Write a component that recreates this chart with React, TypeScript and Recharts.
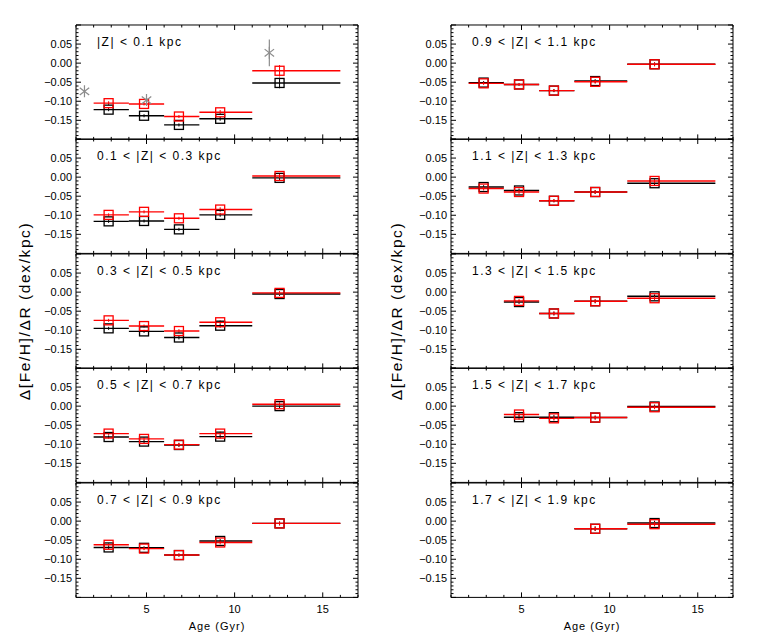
import React from "react";
import { ScatterChart, Scatter, XAxis, YAxis, ErrorBar } from "recharts";

// age bins (Gyr) and the mean age of each bin
const ageLo = [2, 4, 6, 8, 11];
const ageHi = [4, 6, 8, 11, 16];
const ageMean = [2.85, 4.86, 6.84, 9.18, 12.55];

const zLabels = [
  "|Z| < 0.1 kpc",
  "0.1 < |Z| < 0.3 kpc",
  "0.3 < |Z| < 0.5 kpc",
  "0.5 < |Z| < 0.7 kpc",
  "0.7 < |Z| < 0.9 kpc",
  "0.9 < |Z| < 1.1 kpc",
  "1.1 < |Z| < 1.3 kpc",
  "1.3 < |Z| < 1.5 kpc",
  "1.5 < |Z| < 1.7 kpc",
  "1.7 < |Z| < 1.9 kpc",
];

// d[Fe/H]/dR, one row per |Z| slice, one column per age bin
const gradBlack = [
  [-0.122, -0.138, -0.162, -0.146, -0.052],
  [-0.116, -0.115, -0.137, -0.099, -0.002],
  [-0.095, -0.103, -0.119, -0.088, -0.005],
  [-0.081, -0.093, -0.102, -0.08, 0.0],
  [-0.069, -0.07, -0.089, -0.052, -0.006],
  [-0.051, -0.056, -0.072, -0.047, -0.003],
  [-0.026, -0.035, -0.062, -0.039, -0.016],
  [null, -0.026, -0.056, -0.024, -0.011],
  [null, -0.029, -0.029, -0.03, -0.001],
  [null, null, null, -0.02, -0.005],
];
const gradRed = [
  [-0.105, -0.107, -0.14, -0.129, -0.02],
  [-0.099, -0.091, -0.108, -0.085, 0.003],
  [-0.074, -0.089, -0.102, -0.079, -0.002],
  [-0.072, -0.086, -0.101, -0.072, 0.005],
  [-0.062, -0.072, -0.089, -0.056, -0.006],
  [-0.053, -0.056, -0.072, -0.049, -0.003],
  [-0.03, -0.039, -0.062, -0.039, -0.01],
  [null, -0.023, -0.056, -0.024, -0.016],
  [null, -0.022, -0.032, -0.03, -0.003],
  [null, null, null, -0.02, -0.008],
];
const errBlack = [
  [0.004, 0.004, 0.004, 0.005, 0.014],
  [0.004, 0.004, 0.004, 0.005, 0.006],
  [0.004, 0.004, 0.005, 0.005, 0.005],
  [0.004, 0.004, 0.005, 0.005, 0.005],
  [0.004, 0.004, 0.004, 0.005, 0.005],
  [0.004, 0.003, 0.004, 0.005, 0.005],
  [0.005, 0.005, 0.004, 0.005, 0.006],
  [0, 0.005, 0.005, 0.005, 0.005],
  [0, 0.006, 0.006, 0.005, 0.005],
  [0, 0, 0, 0.006, 0.006],
];
const errRed = [
  [0.005, 0.004, 0.004, 0.006, 0.015],
  [0.004, 0.004, 0.004, 0.006, 0.006],
  [0.004, 0.004, 0.005, 0.005, 0.005],
  [0.004, 0.004, 0.005, 0.005, 0.005],
  [0.004, 0.004, 0.004, 0.005, 0.005],
  [0.004, 0.003, 0.004, 0.005, 0.005],
  [0.005, 0.005, 0.004, 0.005, 0.006],
  [0, 0.005, 0.005, 0.005, 0.005],
  [0, 0.006, 0.006, 0.005, 0.005],
  [0, 0, 0, 0.006, 0.006],
];

// literature values shown in the |Z| < 0.1 kpc panel
const litAge = [1.48, 5.0, 11.97];
const litGrad = [-0.074, -0.097, 0.027];
const litErr = [0, 0, 0.035];

const xMajorTicks = [5, 10, 15];
const yMajorTicks = [-0.15, -0.1, -0.05, 0, 0.05];
const xDomain = [1, 17];
const yDomain = [-0.2, 0.1];

const xTicks: number[] = [];
for (let v = xDomain[0]; v <= xDomain[1]; v++) xTicks.push(v);
const yTicks: number[] = [];
for (let i = -20; i <= 10; i++) yTicks.push(i / 100);

const PLOT_LEFT = [76, 451];
const PLOT_TOP = 25;
const PLOT_W = 282;
const PLOT_H = 114.4;
const AX_W = 50;
const PAD = 6;
const XLAB_H = 22;
const FONT = "'Liberation Sans', Arial, Helvetica, sans-serif";
const MAJ = 5;
const MIN = 2.5;

const fmtY = (v: number) => {
  if (Math.abs(v) < 1e-9) return "0.00";
  const s = Math.abs(v).toFixed(2);
  return v < 0 ? "\u2212" + s : s;
};
const isYMajor = (v: number) => Math.round(v * 100) % 5 === 0;
const hasYLabel = (v: number) => yMajorTicks.some((t) => Math.abs(t - v) < 1e-6);

const leftTick = (p: any) => {
  const v = p.payload.value;
  const major = isYMajor(v);
  return (
    <g>
      <line x1={p.x} x2={p.x + (major ? MAJ : MIN)} y1={p.y} y2={p.y} stroke="#000" />
      {hasYLabel(v) && (
        <text x={p.x - 4} y={p.y + 4} textAnchor="end" fontSize={11} fontFamily={FONT} fill="#000">
          {fmtY(v)}
        </text>
      )}
    </g>
  );
};
const rightTick = (p: any) => {
  const major = isYMajor(p.payload.value);
  return <line x1={p.x} x2={p.x - (major ? MAJ : MIN)} y1={p.y} y2={p.y} stroke="#000" />;
};
const topTick = (p: any) => {
  const major = p.payload.value % 5 === 0;
  return <line x1={p.x} x2={p.x} y1={p.y} y2={p.y + (major ? MAJ : MIN)} stroke="#000" />;
};
const bottomTick = (labels: boolean) => (p: any) => {
  const v = p.payload.value;
  const major = v % 5 === 0;
  return (
    <g>
      <line x1={p.x} x2={p.x} y1={p.y} y2={p.y - (major ? MAJ : MIN)} stroke="#000" />
      {labels && xMajorTicks.includes(v) && (
        <text x={p.x} y={p.y + 16} textAnchor="middle" fontSize={11} fontFamily={FONT} fill="#000">
          {v}
        </text>
      )}
    </g>
  );
};

const square = (color: string) => (p: any) =>
  <rect x={p.cx - 4.5} y={p.cy - 4.5} width={9} height={9} fill="none" stroke={color} strokeWidth={1.3} />;

const asterisk = (p: any) => {
  const r = 6;
  const dx = r * Math.cos((38 * Math.PI) / 180);
  const dy = r * Math.sin((38 * Math.PI) / 180);
  return (
    <g stroke="#8c8c8c" strokeWidth={1.2}>
      <line x1={p.cx - dx} y1={p.cy - dy} x2={p.cx + dx} y2={p.cy + dy} />
      <line x1={p.cx - dx} y1={p.cy + dy} x2={p.cx + dx} y2={p.cy - dy} />
      <line x1={p.cx} y1={p.cy - r} x2={p.cx} y2={p.cy + r} />
    </g>
  );
};

function seriesRows(vals: (number | null)[], errs: number[]) {
  const out: any[] = [];
  vals.forEach((v, i) => {
    if (v === null) return;
    const x = ageMean[i];
    out.push({ x, y: v, ex: [x - ageLo[i], ageHi[i] - x], ey: errs[i] });
  });
  return out;
}

function Panel({ idx }: { idx: number }) {
  const col = idx < 5 ? 0 : 1;
  const row = idx % 5;
  const top = PLOT_TOP + row * PLOT_H;
  const bottom = row === 4;
  const black = seriesRows(gradBlack[idx], errBlack[idx]);
  const red = seriesRows(gradRed[idx], errRed[idx]);
  const lit = idx === 0 ? litAge.map((x, i) => ({ x, y: litGrad[i], ey: litErr[i] })) : [];
  return (
    <div style={{ position: "absolute", left: PLOT_LEFT[col] - AX_W, top: top - PAD }}>
      <ScatterChart
        width={AX_W + PLOT_W + PAD}
        height={PAD + PLOT_H + (bottom ? XLAB_H : PAD)}
        margin={{ top: PAD - 1, right: PAD - 1, bottom: bottom ? 0 : PAD - 1, left: 0 }}
      >
        <XAxis xAxisId="b" type="number" dataKey="x" domain={xDomain} ticks={xTicks} interval={0}
          allowDataOverflow orientation="bottom" height={bottom ? XLAB_H : 1} tickSize={0} tickMargin={0}
          tickLine={false} tick={bottomTick(bottom)} axisLine={{ stroke: "#000" }} />
        <XAxis xAxisId="t" type="number" dataKey="x" domain={xDomain} ticks={xTicks} interval={0}
          allowDataOverflow orientation="top" height={1} tickSize={0} tickMargin={0}
          tickLine={false} tick={topTick} axisLine={{ stroke: "#000" }} />
        <YAxis yAxisId="l" type="number" dataKey="y" domain={yDomain} ticks={yTicks} interval={0}
          allowDataOverflow width={AX_W} tickSize={0} tickMargin={0}
          tickLine={false} tick={leftTick} axisLine={{ stroke: "#000" }} />
        <YAxis yAxisId="r" type="number" dataKey="y" domain={yDomain} ticks={yTicks} interval={0}
          allowDataOverflow orientation="right" width={1} tickSize={0} tickMargin={0}
          tickLine={false} tick={rightTick} axisLine={{ stroke: "#000" }} />
        <Scatter xAxisId="b" yAxisId="l" data={black} shape={square("#000")} isAnimationActive={false}>
          <ErrorBar dataKey="ex" direction="x" width={0} stroke="#000" strokeWidth={1.4} isAnimationActive={false} />
          <ErrorBar dataKey="ey" direction="y" width={0} stroke="#000" strokeWidth={1} isAnimationActive={false} />
        </Scatter>
        <Scatter xAxisId="b" yAxisId="l" data={red} shape={square("#ff0000")} isAnimationActive={false}>
          <ErrorBar dataKey="ex" direction="x" width={0} stroke="#ff0000" strokeWidth={1.4} isAnimationActive={false} />
          <ErrorBar dataKey="ey" direction="y" width={0} stroke="#ff0000" strokeWidth={1} isAnimationActive={false} />
        </Scatter>
        {idx === 0 && (
          <Scatter xAxisId="b" yAxisId="l" data={lit} shape={asterisk} isAnimationActive={false}>
            <ErrorBar dataKey="ey" direction="y" width={0} stroke="#8c8c8c" strokeWidth={1.2} isAnimationActive={false} />
          </Scatter>
        )}
      </ScatterChart>
    </div>
  );
}

export default function App() {
  const yTitle = "\u0394[Fe/H]/\u0394R (dex/kpc)";
  const midY = PLOT_TOP + 2.5 * PLOT_H;
  return (
    <div style={{ position: "absolute", left: 0, top: 0, width: 763, height: 636, background: "#fff" }}>
      {zLabels.map((_, i) => (
        <Panel key={i} idx={i} />
      ))}
      <svg width={763} height={636} style={{ position: "absolute", left: 0, top: 0, pointerEvents: "none" }}>
        {zLabels.map((lab, i) => (
          <text key={i} x={PLOT_LEFT[i < 5 ? 0 : 1] + 21} y={PLOT_TOP + (i % 5) * PLOT_H + 21}
            fontSize={12} letterSpacing={1.5} fontFamily={FONT} fill="#000" style={{ whiteSpace: "pre" }}>
            {lab}
          </text>
        ))}
        {PLOT_LEFT.map((l, c) => (
          <g key={c}>
            <text x={l + PLOT_W / 2} y={630} textAnchor="middle" fontSize={11} letterSpacing={1}
              fontFamily={FONT} fill="#000">
              Age (Gyr)
            </text>
            <text transform={`translate(${c === 0 ? 30 : 402}, ${midY}) rotate(-90)`} textAnchor="middle"
              fontSize={15.5} letterSpacing={1.6} fontFamily={FONT} fill="#000">
              {yTitle}
            </text>
          </g>
        ))}
      </svg>
    </div>
  );
}
